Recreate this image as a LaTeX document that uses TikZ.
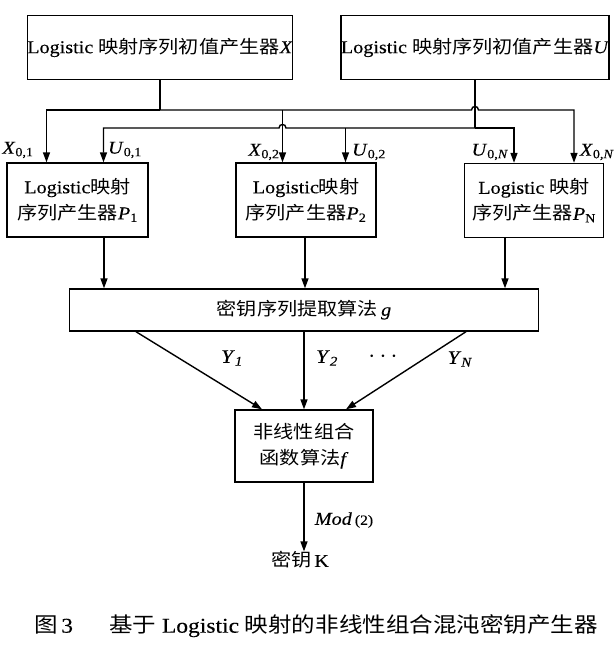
\documentclass[tikz,border=0pt]{standalone}
\usepackage{fontspec}
\setmainfont{Liberation Serif}[FakeStretch=1.12,FakeBold=0.25]
\newfontfamily\cjk{Noto Sans CJK SC}[FakeStretch=1.12]
\usetikzlibrary{arrows.meta,calc}
\tikzset{
  box/.style={draw, line width=1.4pt, rectangle, inner sep=0pt, align=center,
    font=\fontsize{18}{26}\selectfont},
  ln/.style={line width=1.4pt},
  arr/.style={line width=1.4pt, -{Triangle[length=10pt,width=7pt]}},
  lab/.style={font=\fontsize{18}{20}\selectfont, inner sep=0pt},
}
\begin{document}
\begin{tikzpicture}[x=1pt,y=-1pt]
\useasboundingbox (0,0) rectangle (616,651);
% top boxes
\node[box, minimum width=260pt, minimum height=64pt] (X) at (160,47.5)
  {Logistic {\cjk 映射序列初值产生器}\textit{X}};
\node[box, minimum width=258pt, minimum height=64pt] (U) at (475,47.5)
  {Logistic {\cjk 映射序列初值产生器}\textit{U}};
% generator boxes
\node[box, minimum width=141pt, minimum height=74pt] (P1) at (77.5,200)
  {Logistic{\cjk 映射}\\{\cjk 序列产生器}\textit{P}\textsubscript{1}};
\node[box, minimum width=140pt, minimum height=74pt] (P2) at (306,200)
  {Logistic{\cjk 映射}\\{\cjk 序列产生器}\textit{P}\textsubscript{2}};
\node[box, minimum width=138.5pt, minimum height=74pt] (PN) at (534,200.5)
  {Logistic {\cjk 映射}\\{\cjk 序列产生器}\textit{P}\textsubscript{N}};
% extraction box
\node[box, minimum width=469pt, minimum height=42pt] (g) at (304,310)
  {{\cjk 密钥序列提取算法}\,\textit{g}};
% nonlinear box
\node[box, minimum width=138pt, minimum height=72pt] (f) at (304,446)
  {{\cjk 非线性组合}\\{\cjk 函数算法}\textit{f}};
\node[lab, font=\fontsize{18}{20}\selectfont] (K) at (300,560) {{\cjk 密钥}\,K};
% junction coordinates
\coordinate (xj) at (160,110);
\coordinate (xb) at (282.5,110);
\coordinate (uj) at (475,128);
\coordinate (ub) at (345.5,128);
% X distribution
\draw[ln] (X.south) -- (xj);
\draw[arr] (xj) -| ([xshift=-31]P1.north);
\draw[arr] (xj) -- (471.5,110) .. controls (471.5,105.3) and (478.5,105.3) .. (478.5,110)
  -| ([xshift=40]PN.north);
\draw[arr] (xb) -- (xb |- P2.north);
% U distribution
\draw[ln] (U.south) -- (uj);
\draw[arr] (uj) -- (286,128) .. controls (286,123.3) and (279,123.3) .. (279,128)
  -| ([xshift=26]P1.north);
\draw[arr] (uj) -| ([xshift=-20]PN.north);
\draw[arr] (ub) -- (ub |- P2.north);
% labels
\node[lab] (lx1) at (18,150) {\textit{X}\textsubscript{0,1}};
\node[lab] (lu1) at (125,150) {\textit{U}\textsubscript{0,1}};
\node[lab] (lx2) at (264,152) {\textit{X}\textsubscript{0,2}};
\node[lab] (lu2) at (369,152) {\textit{U}\textsubscript{0,2}};
\node[lab] (lun) at (490,152) {\textit{U}\textsubscript{0,\textit{N}}};
\node[lab] (lxn) at (597,152) {\textit{X}\textsubscript{0,\textit{N}}};
% to extraction
\draw[arr] ([xshift=26.5]P1.south) -- ([xshift=26.5]P1.south |- g.north);
\draw[arr] ([xshift=-1]P2.south) -- ([xshift=-1]P2.south |- g.north);
\draw[arr] ([xshift=-29]PN.south) -- ([xshift=-29]PN.south |- g.north);
% to nonlinear
\draw[arr] ([xshift=-168]g.south) -- ([xshift=-42]f.north);
\draw[arr] (g.south) -- (f.north);
\draw[arr] ([xshift=162]g.south) -- ([xshift=42]f.north);
\node[lab, font=\fontsize{19}{21}\selectfont] (y1) at (232,358) {\textit{Y}\textsubscript{\textit{1}}};
\node[lab, font=\fontsize{19}{21}\selectfont] (y2) at (327,358) {\textit{Y}\textsubscript{\textit{2}}};
\node[lab, font=\fontsize{24}{26}\selectfont] (dots) at (383,357) {$\cdots$};
\node[lab, font=\fontsize{19}{21}\selectfont] (yn) at (460,359) {\textit{Y}\textsubscript{\textit{N}}};
% output
\draw[arr] (f.south) -- (f.south |- K.north);
\node[lab] (mod) at (344,520) {\textit{Mod}\,{\fontsize{14}{15}\selectfont(2)}};
% caption
\node[inner sep=0pt, font=\fontsize{21}{24}\selectfont] (cap) at (316,626)
  {{\cjk 图}\,3\hspace{36pt}{\cjk 基于} Logistic {\cjk 映射的非线性组合混沌密钥产生器}};
\end{tikzpicture}
\end{document}
